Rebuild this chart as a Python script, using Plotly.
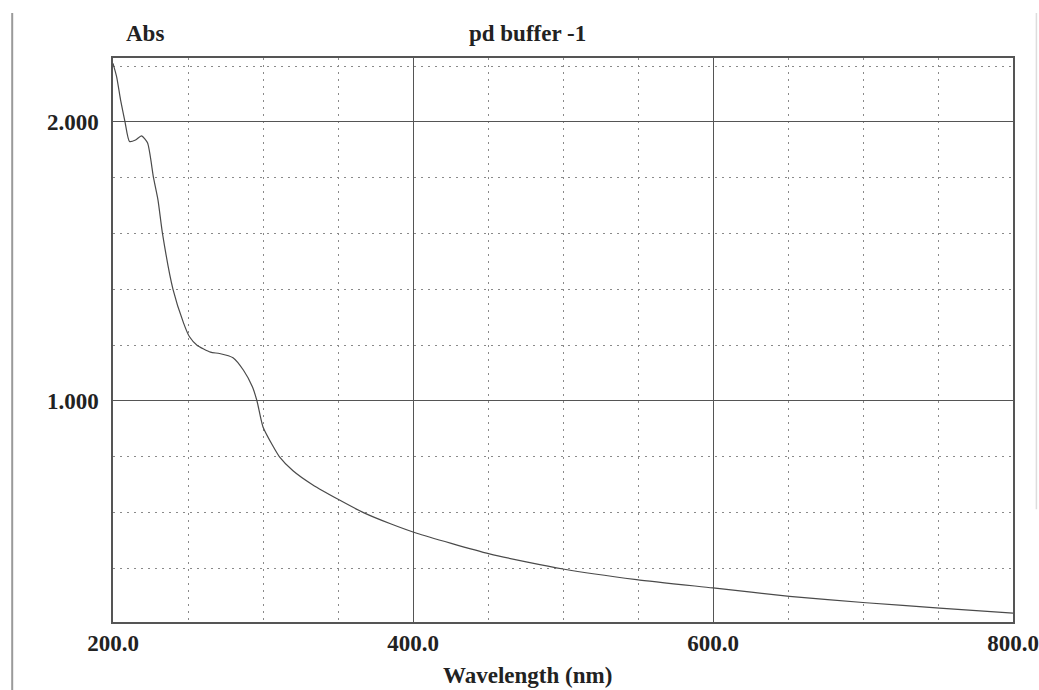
import plotly.graph_objects as go

# Absorbance spectrum, pd buffer -1
wavelength_nm = [200, 202.5, 205, 208, 211, 215, 219, 223, 227, 230, 233, 240,
                 247, 251, 256, 265, 271, 280, 287, 293, 296, 300, 307, 311,
                 320, 333, 351, 367, 385, 402, 451, 500, 549, 600, 651, 702,
                 751, 800]
absorbance = [2.21, 2.16, 2.08, 2.00, 1.93, 1.935, 1.95, 1.925, 1.80, 1.72,
              1.60, 1.40, 1.28, 1.23, 1.20, 1.175, 1.17, 1.155, 1.11, 1.05,
              1.00, 0.907, 0.835, 0.80, 0.75, 0.70, 0.645, 0.60, 0.56, 0.527,
              0.452, 0.398, 0.360, 0.330, 0.300, 0.277, 0.258, 0.24]

x_ticks = [200, 400, 600, 800]
x_tick_text = ["<b>200.0</b>", "<b>400.0</b>", "<b>600.0</b>", "<b>800.0</b>"]
y_ticks = [1.0, 2.0]
y_tick_text = ["<b>1.000</b>", "<b>2.000</b>"]

FONT = "Liberation Serif"
INK = "#222222"
GRID = "#555555"
DOT = "#8a8a8a"

fig = go.Figure()
fig.add_trace(go.Scatter(
    x=wavelength_nm, y=absorbance, mode="lines",
    line=dict(color="#4a4a4a", width=1.2, shape="spline", smoothing=0.6),
    hoverinfo="skip", showlegend=False,
))

fig.update_xaxes(
    range=[200, 800], tickvals=x_ticks, ticktext=x_tick_text,
    showgrid=True, gridcolor=GRID, gridwidth=1.2,
    showline=True, linecolor=GRID, linewidth=1.5, mirror=True,
    ticks="", zeroline=False, automargin=False,
    tickfont=dict(family=FONT, size=23, color=INK),
    minor=dict(dtick=50, tick0=200, showgrid=True, gridcolor=DOT,
               gridwidth=1, griddash="2px,5px", ticks=""),
)
fig.update_yaxes(
    range=[0.208, 2.229], tickvals=y_ticks, ticktext=y_tick_text,
    showgrid=True, gridcolor=GRID, gridwidth=1.2,
    showline=True, linecolor=GRID, linewidth=1.5, mirror=True,
    ticks="", zeroline=False, ticklabelstandoff=8, automargin=False,
    tickfont=dict(family=FONT, size=23, color=INK),
    minor=dict(dtick=0.2, tick0=0, showgrid=True, gridcolor=DOT,
               gridwidth=1, griddash="2px,5px", ticks=""),
)

bold = dict(family=FONT, size=23, color=INK)
fig.add_annotation(text="<b>Abs</b>", x=0.036, y=1.044, xref="paper", yref="paper",
                   showarrow=False, font=bold, xanchor="center", yanchor="middle")
fig.add_annotation(text="<b>pd buffer -1</b>", x=0.46, y=1.044, xref="paper", yref="paper",
                   showarrow=False, font=bold, xanchor="center", yanchor="middle")
fig.add_annotation(text="<b>Wavelength (nm)</b>", x=0.46, y=-0.095, xref="paper", yref="paper",
                   showarrow=False, font=bold, xanchor="center", yanchor="middle")

# page edges of the printout
fig.add_shape(type="line", xref="paper", yref="paper", x0=-0.112, x1=-0.112,
              y0=-0.13, y1=1.08, line=dict(color="#9a9a9a", width=2))
fig.add_shape(type="line", xref="paper", yref="paper", x0=1.026, x1=1.026,
              y0=0.2, y1=1.08, line=dict(color="#dddddd", width=1.5))

fig.update_layout(
    width=1039, height=690,
    margin=dict(l=113, r=26, t=58, b=68),
    paper_bgcolor="white", plot_bgcolor="white",
    font=dict(family=FONT, color=INK),
)

fig.write_html("out.html")
